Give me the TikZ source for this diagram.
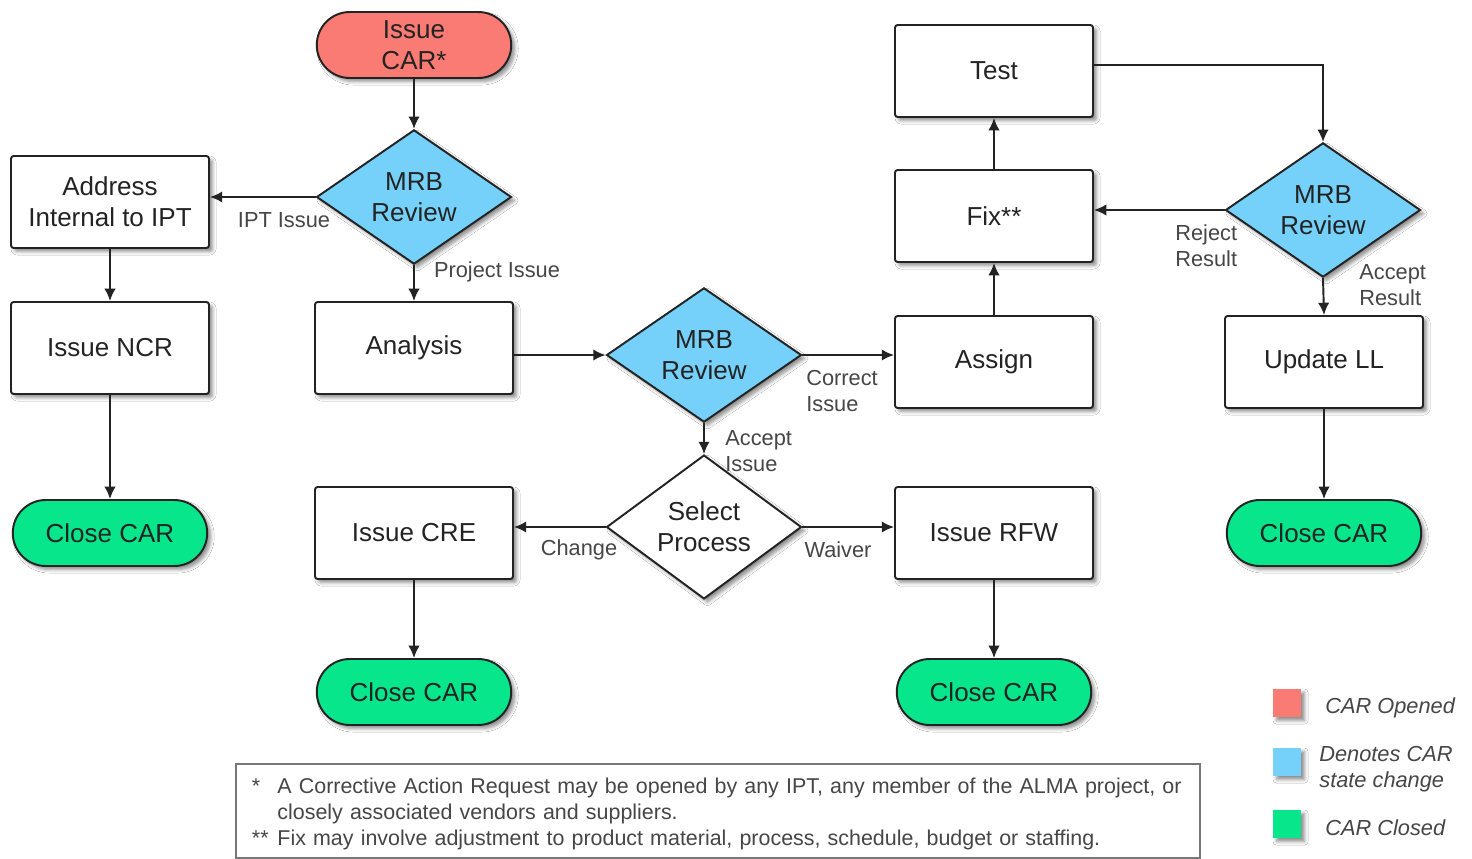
\documentclass[tikz,border=0pt]{standalone}
\usepackage{fontspec}
\setmainfont{Liberation Sans}
\usetikzlibrary{
    arrows.meta,
    positioning,
    shapes.geometric,
    shapes.misc,
    shadows.blur
}
\definecolor{ink}{RGB}{35,35,35}
\definecolor{muted}{RGB}{70,70,70}
\definecolor{caropen}{RGB}{250,122,116}
\definecolor{carstate}{RGB}{117,209,250}
\definecolor{carclosed}{RGB}{8,230,140}
\definecolor{framegray}{RGB}{120,120,120}
\tikzset{
    line cap=round,
    line join=round,
    pop/.style={
        blur shadow={shadow xshift=2pt, shadow yshift=-2pt, shadow blur steps=5, shadow blur radius=2pt, shadow opacity=45}
    },
    base node/.style={
        draw=ink,
        line width=1.1pt,
        text=ink,
        align=center,
        font=\fontsize{14.8}{17.6}\selectfont,
        pop
    },
    procbox/.style={
        base node,
        rectangle,
        rounded corners=1.5pt,
        fill=white,
        minimum width=3.96cm,
        minimum height=1.84cm
    },
    terminal/.style={
        base node,
        rounded rectangle,
        inner sep=1pt,
        minimum width=3.96cm,
        minimum height=1.32cm
    },
    opened/.style={terminal, fill=caropen},
    closed/.style={terminal, fill=carclosed},
    decision/.style={
        base node,
        diamond,
        inner sep=0pt,
        fill=carstate,
        minimum width=3.9cm,
        minimum height=2.62cm
    },
    choice/.style={decision, fill=white},
    flowarrow/.style={
        ->,
        >={Latex[length=7pt,width=6.5pt]},
        draw=ink,
        line width=1.1pt
    },
    annot/.style={
        font=\fontsize{12.4}{14.7}\selectfont,
        text=muted,
        align=left,
        inner sep=0pt
    },
    legendkey/.style={
        minimum size=0.56cm,
        inner sep=0pt,
        pop
    },
    legendtext/.style={
        annot,
        font=\fontsize{12.4}{14.7}\selectfont\itshape,
        anchor=west
    },
    notebox/.style={
        draw=framegray,
        line width=1.1pt,
        text=muted,
        font=\fontsize{12.2}{14.9}\selectfont,
        align=left,
        inner xsep=0.32cm,
        inner ysep=0pt,
        text width=18.64cm,
        minimum height=1.88cm
    }
}

\begin{document}
\begin{tikzpicture}[x=0.02cm, y=-0.02cm]

\path[fill=white, use as bounding box] (0,0) rectangle (1472,859);

% main flow
\node[opened] (issue) at (414,45) {Issue\\CAR*};
\node[decision] (mrbA) at (414,197) {MRB\\Review};
\node[procbox] (addr) at (110,202) {Address\\Internal to IPT};
\node[procbox] (ncr) at (110,348) {Issue NCR};
\node[closed] (closeA) at (110,533) {Close CAR};
\node[procbox] (analysis) at (414,348) {Analysis};
\node[decision] (mrbB) at (704,355) {MRB\\Review};
\node[choice] (select) at (704,527) {Select\\Process};
\node[procbox] (cre) at (414,533) {Issue CRE};
\node[closed] (closeB) at (414,692) {Close CAR};
\node[procbox] (rfw) at (994,533) {Issue RFW};
\node[closed] (closeC) at (994,692) {Close CAR};

% correction loop
\node[procbox] (assign) at (994,362) {Assign};
\node[procbox] (fix) at (994,216) {Fix**};
\node[procbox] (test) at (994,71) {Test};
\node[decision] (mrbC) at (1323,210) {MRB\\Review};
\node[procbox] (update) at (1324,362) {Update LL};
\node[closed] (closeD) at (1324,533) {Close CAR};

\draw[flowarrow] (issue.south) -- (mrbA.north);
\draw[flowarrow] (mrbA.west) -- (mrbA.west -| addr.east);
\draw[flowarrow] (mrbA.south) -- (analysis.north);
\draw[flowarrow] (addr.south) -- (ncr.north);
\draw[flowarrow] (ncr.south) -- (closeA.north);
\draw[flowarrow] (analysis.east |- mrbB.west) -- (mrbB.west);
\draw[flowarrow] (mrbB.east) -- (mrbB.east -| assign.west);
\draw[flowarrow] (mrbB.south) -- (select.north);
\draw[flowarrow] (select.west) -- (select.west -| cre.east);
\draw[flowarrow] (select.east) -- (select.east -| rfw.west);
\draw[flowarrow] (cre.south) -- (closeB.north);
\draw[flowarrow] (rfw.south) -- (closeC.north);
\draw[flowarrow] (assign.north) -- (fix.south);
\draw[flowarrow] (fix.north) -- (test.south);
\draw[flowarrow] ([yshift=0.12cm]test.east) -| (mrbC.north);
\draw[flowarrow] (mrbC.west) -- (mrbC.west -| fix.east);
\draw[flowarrow] (mrbC.south) -- (update.north);
\draw[flowarrow] (update.south) -- (closeD.north);

\node[annot] (lblipt) at (284,220) {IPT Issue};
\node[annot] (lblproj) at (497,272) {Project Issue};
\node[annot, anchor=west] (lblcorrect) at (806,391) {Correct\\Issue};
\node[annot, anchor=west] (lblaccept) at (725,451) {Accept\\Issue};
\node[annot] (lblchange) at (579,550) {Change};
\node[annot] (lblwaiver) at (838,550) {Waiver};
\node[annot, anchor=west] (lblreject) at (1175,246) {Reject\\Result};
\node[annot, anchor=west] (lblacceptres) at (1359,285) {Accept\\Result};

% legend
\node[legendkey, fill=caropen] (keyopen) at (1287,703) {};
\node[legendkey, fill=carstate] (keystate) at (1287,762) {};
\node[legendkey, fill=carclosed] (keyclosed) at (1287,824) {};
\node[legendtext] (txtopen) at (1325,708) {CAR Opened};
\node[legendtext] (txtstate) at (1319,769) {Denotes CAR\\state change};
\node[legendtext] (txtclosed) at (1325,828) {CAR Closed};

% footnotes
\node[notebox, anchor=north west] (note) at (235,763) {%
\begin{tabular}{@{}l@{\hspace{5pt}}l@{}}
\rule{0pt}{14.4pt}* & A Corrective Action Request may be opened by any IPT, any member of the ALMA project, or\\
  & closely associated vendors and suppliers.\\
{**} & Fix may involve adjustment to product material, process, schedule, budget or staffing.
\end{tabular}};

\end{tikzpicture}
\end{document}
